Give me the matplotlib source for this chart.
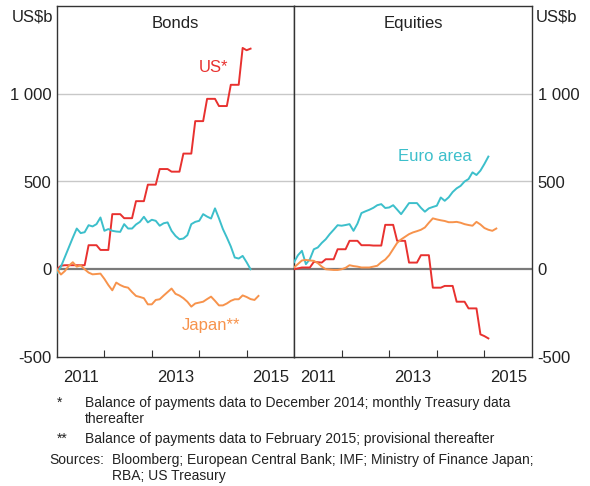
import matplotlib.pyplot as plt
import numpy as np

plt.rcParams['font.family'] = ['Liberation Sans', 'DejaVu Sans']

# cumulative flows, US$b, monthly from January 2011
us_bonds = [0, 20, 23, 23, 23, 23, 23, 23, 137, 137, 137, 110, 110, 110,
            314, 314, 314, 291, 291, 291, 388, 388, 388, 482, 482, 482,
            571, 571, 571, 556, 556, 556, 659, 659, 659, 844, 844, 844,
            971, 971, 971, 930, 930, 930, 1051, 1051, 1051, 1261, 1248, 1257]
euro_bonds = [-19, 15, 70, 125, 180, 232, 206, 211, 251, 244, 257, 295, 219,
              229, 219, 215, 213, 257, 232, 232, 255, 270, 299, 267, 282, 276,
              248, 262, 267, 219, 190, 171, 175, 194, 257, 270, 276, 314, 300,
              289, 347, 290, 229, 181, 130, 67, 61, 76, 40, 0]
japan_bonds = [0, -30, -10, 20, 40, 15, 22, 0, -19, -29, -27, -25, -55, -90,
               -120, -76, -90, -100, -105, -130, -152, -158, -165, -200, -200,
               -175, -171, -150, -130, -110, -140, -150, -165, -185, -213,
               -195, -190, -185, -170, -156, -180, -206, -206, -195, -180,
               -171, -171, -149, -158, -170, -175, -152]

us_equities = [0, 5, 10, 10, 10, 42, 40, 38, 57, 57, 57, 114, 114, 114, 162,
               162, 162, 137, 137, 137, 135, 135, 135, 253, 253, 253, 162, 162,
               162, 38, 38, 38, 80, 80, 80, -105, -105, -105, -95, -95, -95,
               -185, -185, -185, -223, -223, -223, -371, -381, -394]
euro_equities = [40, 80, 105, 29, 57, 114, 124, 150, 171, 200, 225, 251, 248,
                 252, 257, 219, 260, 320, 330, 339, 350, 365, 371, 349, 352,
                 365, 340, 314, 345, 377, 377, 377, 350, 328, 347, 355, 362,
                 409, 390, 410, 440, 461, 475, 500, 514, 552, 537, 562, 600, 642]
japan_equities = [10, 30, 50, 53, 50, 48, 35, 15, 0, -2, -4, -4, 0, 8, 23, 18,
                  15, 10, 10, 10, 15, 20, 40, 55, 80, 115, 150, 170, 185, 200,
                  210, 217, 225, 238, 265, 290, 284, 279, 275, 268, 268, 270,
                  265, 257, 252, 248, 270, 255, 235, 225, 219, 232]

yticks = [-500, 0, 500, 1000]
ytick_labels = ['-500', '0', '500', '1 000']
year_labels = ['2011', '', '2013', '', '2015']

red = '#e8312f'
teal = '#3cbfcb'
orange = '#f7934c'
text_col = '#222222'


def months(vals):
    return 2011 + np.arange(len(vals)) / 12


fig = plt.figure(figsize=(5.9, 4.86), dpi=100)
ax1 = fig.add_axes([57 / 590, 1 - 357 / 486, 237 / 590, 351 / 486])
ax2 = fig.add_axes([294 / 590, 1 - 357 / 486, 238 / 590, 351 / 486])

panels = [
    (ax1, 'Bonds', [(us_bonds, red), (euro_bonds, teal), (japan_bonds, orange)]),
    (ax2, 'Equities', [(us_equities, red), (euro_equities, teal), (japan_equities, orange)]),
]

for ax, title, series in panels:
    ax.set_xlim(2011, 2016)
    ax.set_ylim(-500, 1500)
    for y in [500, 1000]:
        ax.axhline(y, color='#c8c8c8', lw=1, zorder=0)
    ax.axhline(0, color='#7a7a7a', lw=1.6, zorder=1)
    for vals, col in series:
        ax.plot(months(vals), vals, color=col, lw=1.4, zorder=3)
    ax.text(0.5, 0.95, title, transform=ax.transAxes, ha='center', va='center',
            fontsize=12, color=text_col)
    ax.set_xticks([2012, 2013, 2014, 2015])
    ax.set_xticklabels([])
    ax.set_xticks(np.arange(2011.5, 2016), minor=True)
    ax.set_xticklabels(year_labels, minor=True, fontsize=12, color=text_col)
    ax.tick_params(axis='x', which='major', direction='in', length=5, color='#333333')
    ax.tick_params(axis='x', which='minor', length=0, pad=9)
    ax.set_yticks(yticks)
    ax.tick_params(axis='y', length=0, labelsize=12, labelcolor=text_col, pad=4)
    for s in ax.spines.values():
        s.set_color('#333333')
        s.set_linewidth(1)

ax1.set_yticklabels(ytick_labels)
ax2.yaxis.tick_right()
ax2.set_yticklabels(ytick_labels)

fig.text(53 / 590, 1 - 17 / 486, 'US$b', ha='right', va='center', fontsize=12, color=text_col)
fig.text(536 / 590, 1 - 17 / 486, 'US$b', ha='left', va='center', fontsize=12, color=text_col)

ax1.text(2014.3, 1150, 'US*', color=red, fontsize=12, ha='center', va='center')
ax1.text(2014.25, -320, 'Japan**', color=orange, fontsize=12, ha='center', va='center')
ax2.text(2013.95, 640, 'Euro area', color=teal, fontsize=12, ha='center', va='center')

fs = 10
fig.text(57 / 590, 1 - 403 / 486, '*', fontsize=fs, va='center', color=text_col)
fig.text(85 / 590, 1 - 403 / 486, 'Balance of payments data to December 2014; monthly Treasury data',
         fontsize=fs, va='center', color=text_col)
fig.text(85 / 590, 1 - 419 / 486, 'thereafter', fontsize=fs, va='center', color=text_col)
fig.text(57 / 590, 1 - 439 / 486, '**', fontsize=fs, va='center', color=text_col)
fig.text(85 / 590, 1 - 439 / 486, 'Balance of payments data to February 2015; provisional thereafter',
         fontsize=fs, va='center', color=text_col)
fig.text(49 / 590, 1 - 460 / 486, 'Sources:', fontsize=fs, va='center', color=text_col)
fig.text(112 / 590, 1 - 460 / 486,
         'Bloomberg; European Central Bank; IMF; Ministry of Finance Japan;',
         fontsize=fs, va='center', color=text_col)
fig.text(112 / 590, 1 - 476 / 486, 'RBA; US Treasury', fontsize=fs, va='center', color=text_col)

fig.savefig('out.png', dpi=100)
